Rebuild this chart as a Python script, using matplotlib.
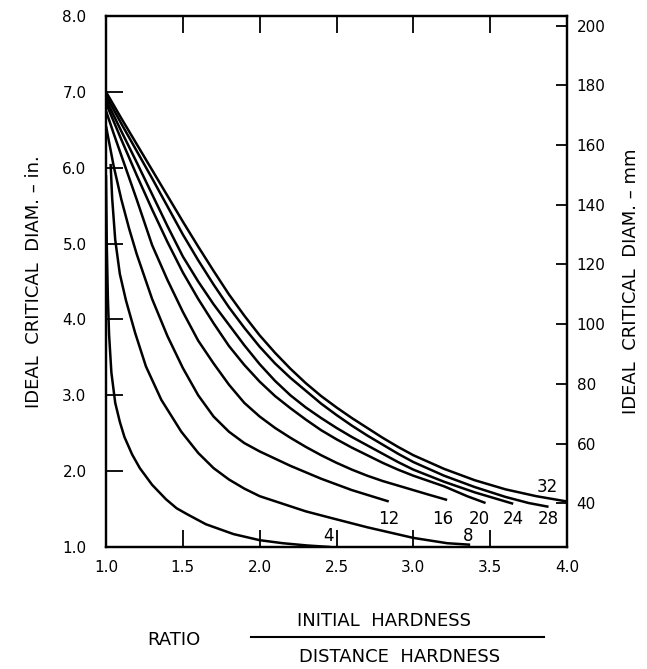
#!/usr/bin/env python3

'Ideal critical diameter vs hardness ratio chart.'

import matplotlib
matplotlib.use('Agg')
import matplotlib.pyplot as plt
from matplotlib.lines import Line2D

# curve labels (Jominy distance, sixteenths)
labels = ['4', '8', '12', '16', '20', '24', '28', '32']

# values: ratio (x) and ideal critical diameter in inches (y)
x4 = [1.0, 1.005, 1.012, 1.02, 1.035, 1.06, 1.09, 1.12, 1.17, 1.22, 1.3,
      1.39, 1.46, 1.53, 1.65, 1.83, 2.0, 2.15, 2.31, 2.46]
y4 = [5.9, 5.0, 4.3, 3.8, 3.3, 2.9, 2.65, 2.45, 2.22, 2.04, 1.82,
      1.63, 1.51, 1.43, 1.30, 1.17, 1.09, 1.05, 1.02, 1.0]
x8 = [1.03, 1.04, 1.06, 1.09, 1.13, 1.19, 1.26, 1.36, 1.49, 1.6, 1.7, 1.8,
      1.9, 2.0, 2.18, 2.3, 2.47, 2.7, 2.85, 3.0, 3.22, 3.37]
y8 = [6.05, 5.6, 5.05, 4.6, 4.25, 3.82, 3.38, 2.94, 2.52, 2.24, 2.04, 1.89,
      1.77, 1.67, 1.55, 1.47, 1.38, 1.26, 1.19, 1.12, 1.05, 1.03]
x12 = [1.0, 1.05, 1.1, 1.15, 1.2, 1.3, 1.4, 1.5, 1.6, 1.7, 1.8, 1.9, 2.0,
       2.2, 2.4, 2.6, 2.84]
y12 = [6.55, 6.02, 5.58, 5.2, 4.86, 4.27, 3.78, 3.36, 3.0, 2.72, 2.52, 2.37,
       2.26, 2.07, 1.90, 1.75, 1.60]
x16 = [1.0, 1.05, 1.1, 1.2, 1.3, 1.4, 1.5, 1.6, 1.7, 1.8, 1.9, 2.0, 2.1,
       2.2, 2.3, 2.4, 2.5, 2.6, 2.7, 2.8, 2.9, 3.0, 3.1, 3.22]
y16 = [6.75, 6.45, 6.16, 5.58, 4.98, 4.52, 4.10, 3.72, 3.42, 3.14, 2.90, 2.72,
       2.57, 2.44, 2.32, 2.21, 2.11, 2.02, 1.94, 1.87, 1.81, 1.75, 1.69, 1.62]
x20 = [1.0, 1.1, 1.2, 1.3, 1.4, 1.5, 1.6, 1.7, 1.8, 1.9, 2.0, 2.1, 2.2, 2.3,
       2.4, 2.5, 2.6, 2.7, 2.8, 2.9, 3.0, 3.2, 3.35, 3.47]
y20 = [6.85, 6.37, 5.90, 5.45, 5.02, 4.62, 4.27, 3.95, 3.65, 3.40, 3.18, 2.99,
       2.83, 2.68, 2.54, 2.42, 2.31, 2.21, 2.11, 2.02, 1.94, 1.80, 1.67, 1.58]
x24 = [1.0, 1.1, 1.2, 1.3, 1.4, 1.5, 1.6, 1.7, 1.8, 1.9, 2.0, 2.1, 2.2, 2.3,
       2.4, 2.5, 2.6, 2.7, 2.8, 2.9, 3.0, 3.2, 3.4, 3.55, 3.65]
y24 = [6.9, 6.48, 6.07, 5.65, 5.23, 4.83, 4.50, 4.20, 3.93, 3.66, 3.41, 3.19,
       3.0, 2.84, 2.70, 2.57, 2.45, 2.34, 2.23, 2.12, 2.02, 1.86, 1.72, 1.63,
       1.57]
x28 = [1.0, 1.1, 1.2, 1.3, 1.4, 1.5, 1.6, 1.7, 1.8, 1.9, 2.0, 2.1, 2.2, 2.3,
       2.4, 2.5, 2.6, 2.7, 2.8, 2.9, 3.0, 3.2, 3.4, 3.6, 3.75, 3.88]
y28 = [6.95, 6.58, 6.22, 5.86, 5.49, 5.12, 4.78, 4.46, 4.16, 3.89, 3.64, 3.42,
       3.23, 3.06, 2.89, 2.74, 2.60, 2.47, 2.35, 2.23, 2.12, 1.94, 1.79, 1.66,
       1.58, 1.53]
x32 = [1.0, 1.1, 1.2, 1.3, 1.4, 1.5, 1.6, 1.7, 1.8, 1.9, 2.0, 2.1, 2.2, 2.3,
       2.4, 2.5, 2.6, 2.7, 2.8, 2.9, 3.0, 3.2, 3.4, 3.6, 3.8, 4.0]
y32 = [7.0, 6.65, 6.31, 5.97, 5.63, 5.29, 4.96, 4.64, 4.33, 4.05, 3.79, 3.56,
       3.35, 3.16, 2.99, 2.84, 2.70, 2.57, 2.44, 2.32, 2.21, 2.03, 1.88, 1.76,
       1.67, 1.60]

# label anchor points (x, y) in data units
label_x = [2.445, 3.355, 2.84, 3.19, 3.43, 3.65, 3.88, 3.87]
label_y = [1.145, 1.145, 1.375, 1.375, 1.375, 1.375, 1.375, 1.795]

x_ticks = [1.0, 1.5, 2.0, 2.5, 3.0, 3.5, 4.0]
y_ticks = [1.0, 2.0, 3.0, 4.0, 5.0, 6.0, 7.0, 8.0]
mm_ticks = [40, 60, 80, 100, 120, 140, 160, 180, 200]
MM_PER_IN = 25.4

curves_x = [x4, x8, x12, x16, x20, x24, x28, x32]
curves_y = [y4, y8, y12, y16, y20, y24, y28, y32]

plt.rcParams['font.family'] = ['DejaVu Sans']

fig = plt.figure(figsize=(6.47, 6.69), dpi=100)
ax = fig.add_axes([106 / 647, 1 - 547 / 669, (567 - 106) / 647, (547 - 16) / 669])

for cx, cy in zip(curves_x, curves_y):
    ax.plot(cx, cy, color='black', lw=1.8, solid_capstyle='butt',
            solid_joinstyle='round')

for text, lx, ly in zip(labels, label_x, label_y):
    ax.text(lx, ly, text, fontsize=12, ha='center', va='center')

ax.set_xlim(1.0, 4.0)
ax.set_ylim(1.0, 8.0)
ax.set_xticks(x_ticks)
ax.set_xticklabels([f'{t:.1f}' for t in x_ticks], fontsize=11)
ax.set_yticks(y_ticks)
ax.set_yticklabels([f'{t:.1f}' for t in y_ticks], fontsize=11)
ax.tick_params(axis='x', direction='in', length=12, width=1.3, pad=9,
               top=True, labeltop=False)
ax.tick_params(axis='y', direction='in', length=12, width=1.3, pad=14,
               right=False)
for spine in ax.spines.values():
    spine.set_linewidth(1.6)
# hide end ticks sitting on the corners
for tl in ax.xaxis.get_major_ticks()[::6]:
    tl.tick1line.set_visible(False)
    tl.tick2line.set_visible(False)
for tl in ax.yaxis.get_major_ticks()[::7]:
    tl.tick1line.set_visible(False)
ax.set_ylabel('IDEAL  CRITICAL  DIAM. – in.', fontsize=13, labelpad=14)

ax2 = ax.twinx()
ax2.set_ylim(1.0 * MM_PER_IN, 8.0 * MM_PER_IN)
ax2.set_yticks(mm_ticks)
ax2.set_yticklabels([str(t) for t in mm_ticks], fontsize=11)
ax2.tick_params(axis='y', direction='in', length=8, width=1.3, pad=7)
for spine in ax2.spines.values():
    spine.set_linewidth(1.6)
ax2.set_ylabel('IDEAL  CRITICAL  DIAM. – mm', fontsize=13, labelpad=12)

fig.text(174 / 647, 1 - 640 / 669, 'RATIO', fontsize=13, ha='center', va='center')
fig.text(384 / 647, 1 - 621 / 669, 'INITIAL  HARDNESS', fontsize=13,
         ha='center', va='center')
fig.text(400 / 647, 1 - 657 / 669, 'DISTANCE  HARDNESS', fontsize=13,
         ha='center', va='center')
fig.add_artist(Line2D([251 / 647, 544 / 647], [1 - 637 / 669, 1 - 637 / 669],
                      color='black', lw=1.5))

fig.savefig('out.png', dpi=100)
